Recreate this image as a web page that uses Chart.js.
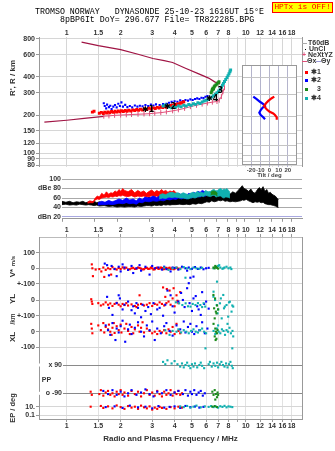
<!DOCTYPE html>
<html><head><meta charset="utf-8">
<script src="https://cdn.jsdelivr.net/npm/chart.js@4.4.0/dist/chart.umd.min.js"></script>
<style>
html,body{margin:0;padding:0;background:#fff;}
#wrap{position:relative;width:335px;height:451px;overflow:hidden;background:#fff;}
canvas{position:absolute;}
.t{position:absolute;white-space:pre;font-family:"Liberation Mono","DejaVu Sans Mono",monospace;font-size:8.3px;line-height:9px;color:#000;}
.lg{position:absolute;white-space:pre;font-family:"Liberation Sans",Arial,sans-serif;font-size:7px;line-height:8px;color:#333;font-weight:bold;}
.sq{position:absolute;width:3px;height:3px;}
.ln{position:absolute;height:1px;}
</style></head><body>
<div id="wrap">
<canvas id="cMain" width="335" height="172" style="left:0;top:0"></canvas>
<canvas id="cAmp" width="335" height="52" style="left:0;top:172px"></canvas>
<canvas id="cLow" width="335" height="229" style="left:0;top:222px"></canvas>
<canvas id="cTilt" width="56" height="115" style="left:242px;top:65px"></canvas>
<div class="t" style="left:35px;top:7px">TROMSO NORWAY   DYNASONDE 25-10-23 1616UT 15°E</div>
<div class="t" style="left:60px;top:15px">8pBP6It DoY= 296.677 File= TR822285.BPG</div>
<div style="position:absolute;left:272px;top:2px;width:59px;height:9px;border:1px solid #f00;background:#ff0;color:#f00;font-family:'Liberation Mono',monospace;font-size:7.8px;line-height:9px;text-align:center;white-space:pre">HPTx is OFF!</div>
<div class="ln" style="left:302px;top:43px;width:5px;background:#aaa"></div>
<div class="lg" style="left:308px;top:39px">T60dB</div>
<div class="sq" style="left:305px;top:49px;width:1px;height:1px;background:#000"></div>
<div class="lg" style="left:309px;top:45px">UnCl</div>
<div class="lg" style="left:302px;top:51px;color:#e0507a">+</div>
<div class="lg" style="left:308px;top:51px">NeXtYZ</div>
<div class="ln" style="left:302px;top:61px;width:5px;background:#e0507a"></div>
<div class="lg" style="left:307px;top:57px">Θx</div>
<div class="ln" style="left:316px;top:61px;width:5px;background:#9a9ad8"></div>
<div class="lg" style="left:321px;top:57px">Θy</div>
<div class="sq" style="left:305px;top:71px;background:#f00"></div>
<div class="lg" style="left:311px;top:68px">✱1</div>
<div class="sq" style="left:305px;top:79px;background:#00f"></div>
<div class="lg" style="left:311px;top:76px">✱2</div>
<div class="sq" style="left:305px;top:88px;background:#1a8a1a"></div>
<div class="lg" style="left:317px;top:85px">3</div>
<div class="sq" style="left:305px;top:97px;background:#10b0b0"></div>
<div class="lg" style="left:311px;top:94px">✱4</div>
</div>
<script>
// ---------- shared axis data ----------
const freqTicks  = [1,1.5,2,3,4,5,6,7,8,9,10,12,14,16,18];
const freqLabels = ['1','1.5','2','3','4','5','6','7','8','9','10','12','14','16','18'];
const rangeTicks  = [80,90,100,120,150,200,300,400,600,800];
const rangeLabels = ['80','90','100','120','150','200','300','400','600','800'];
const ampTicks  = [20,40,60,80,100];
const ampLabels = ['dBn 20','40','60','dBe 80','100'];
const tiltTicks  = [-20,-10,0,10,20];
const tiltLabels = ['-20','-10','0','10','20'];
const tiltRangeTicks = [90,100,120,150,200,300,400];
const lowTickLabels = ['100','0','+-100','0','+-100','0','-100','','','10.','0.1'];

// ---------- ionogram (f MHz, R km) ----------
const redMain = [[1.39,211],[1.42,214],[1.52,207],[1.56,210],[1.6,206],[1.63,211],[1.67,208],[1.7,212],[1.74,209],[1.78,213],[1.82,210],[1.86,214],[1.9,211],[1.94,215],[1.98,212],[2.02,216],[2.07,213],[2.12,217],[2.17,214],[2.22,218],[2.28,215],[2.34,219],[2.4,217],[2.46,221],[2.52,218],[2.58,222],[2.65,219],[2.72,224],[2.8,221],[2.88,226],[2.96,223],[3.04,228],[3.12,225],[3.2,230],[3.28,227],[3.36,232],[3.44,229],[3.52,234],[3.6,231],[3.68,236],[3.76,234],[3.84,239],[3.92,237],[4.0,242],[4.08,240],[4.16,245],[4.24,244],[4.32,249],[4.4,250],[4.5,255]];
const blueMain = [[1.61,248],[1.63,236],[1.66,226],[1.68,242],[1.72,231],[1.75,237],[1.78,223],[1.82,233],[1.86,240],[1.9,230],[1.94,246],[1.98,236],[2.02,252],[2.06,233],[2.12,241],[2.18,231],[2.25,236],[2.32,230],[2.4,238],[2.48,233],[2.56,237],[2.65,235],[2.75,240],[2.85,236],[2.95,242],[3.05,238],[3.15,243],[3.3,240],[3.45,244],[3.6,246],[3.72,250],[3.85,254],[4.0,257],[4.15,255],[4.3,261],[4.45,258],[4.6,263],[4.75,260],[4.9,266],[5.05,263],[5.2,268],[5.35,271],[5.5,268],[5.65,274],[5.8,272],[5.95,279],[6.1,283]];
const cyanMain = [[3.45,236],[3.55,240],[3.7,232],[3.85,228],[3.95,234],[4.05,230],[4.2,236],[4.35,233],[4.5,239],[4.65,236],[4.8,242],[4.95,239],[5.1,246],[5.25,243],[5.4,250],[5.55,247],[5.7,254],[5.85,258],[6.0,262],[6.15,266],[6.3,272],[6.45,278],[6.6,284],[6.75,292],[6.9,300],[7.05,310],[7.2,320],[7.3,332],[7.4,344],[7.5,356],[7.6,368],[7.72,382],[7.85,396],[7.95,410],[8.05,425],[8.15,440],[8.22,455]];
const greenMain = [[6.4,300],[6.46,310],[6.5,318],[6.55,326],[6.6,322],[6.65,333],[6.7,340],[6.8,346],[6.9,352],[7.0,360],[7.08,366]];
const nextyz = [[1.61,196],[1.72,197],[1.85,199],[2.0,200],[2.15,201],[2.3,202],[2.5,203],[2.7,204],[2.9,205],[3.1,207],[3.35,209],[3.6,212],[3.9,216],[4.2,220],[4.55,226],[4.9,233],[5.3,239],[5.7,244],[6.1,249],[6.5,253],[6.9,256],[7.1,262],[7.3,280],[7.45,306],[7.6,329]];
const maroonUpper = [[1.21,754],[1.5,708],[2.0,658],[2.5,605],[3.03,560],[3.5,538],[3.9,521],[4.6,469],[5.5,421],[6.2,392],[6.7,366],[7.18,353]];
const maroonLower = [[0.75,176],[1.0,182],[1.25,188],[1.61,195]];
const traceLabels = [[2.85,219,'✱1'],[3.78,232,'✱2'],[7.2,312,'3'],[6.48,266,'✱4']];

// ---------- tilt inset (deg, R km) ----------
const tiltRed  = [[5.2,287],[2.4,279],[-1.3,266],[-3.8,255],[-6.0,243],[-3.1,229],[-0.2,220],[4.1,213],[6.0,207],[7.9,199],[7.9,190]];
const tiltBlue = [[-17.7,287],[-14.0,275],[-10.4,262],[-6.8,252],[-4.9,243],[-7.4,236],[-9.6,226],[-11.1,216],[-9.6,207],[-6.8,199],[-4.9,192]];

// ---------- amplitude (dB) ----------
const blackAmpF  = [1.0,1.05,1.1,1.15,1.2,1.25,1.3,1.35,1.4,1.45,1.5,1.55,1.6,1.7,1.8,1.9,2.0,2.1,2.2,2.3,2.4,2.5,2.6,2.7,2.8,2.9,3.0,3.1,3.2,3.3,3.4,3.5,3.6,3.7,3.8,3.9,4.0,4.2,4.4,4.6,4.8,5.0,5.2,5.4,5.6,5.8,6.0,6.2,6.4,6.6,6.8,7.0,7.2,7.4,7.6,7.8,8.0,8.3,8.6,8.9,9.2,9.5,9.7,9.9,10.2,10.5,10.8,11.1,11.4,11.7,12.0,12.3,12.6,12.9,13.2,13.5,13.8,14.1,14.4,14.7,15.0,15.3];
const blackAmpHi = [53,51,53,50,52,51,53,50,52,51,53,50,52,49,51,48,50,52,49,51,50,53,51,55,54,58,62,57,61,56,63,58,62,57,64,60,65,61,63,60,66,62,65,68,63,67,72,66,70,74,68,72,66,74,70,76,72,68,73,70,76,82,86,80,78,74,79,72,70,77,82,78,84,74,78,70,72,68,66,64,60,56];
const blackAmpLo = [46,47,45,46,45,47,46,45,46,45,44,45,43,44,42,43,41,42,41,42,42,41,43,42,43,44,44,43,45,44,45,44,46,45,46,45,46,46,47,46,47,46,48,47,49,48,50,52,51,54,52,53,55,54,56,53,54,52,53,52,53,54,56,55,57,54,52,50,52,51,52,50,51,48,47,46,46,45,44,43,41,40];
const redAmpF  = [1.38,1.42,1.48,1.52,1.56,1.6,1.65,1.7,1.75,1.8,1.85,1.9,1.95,2.0,2.05,2.1,2.15,2.2,2.3,2.4,2.5,2.6,2.7,2.8,2.9,3.0,3.1,3.2,3.3,3.4,3.5,3.6,3.7,3.8,3.9,4.0,4.1,4.2,4.3];
const redAmpHi = [51,54,52,60,64,62,70,66,73,68,71,70,75,72,78,74,80,76,73,78,71,76,72,75,70,74,77,72,76,73,78,74,76,72,75,73,76,71,69];
const redAmpLo = [49,50,50,56,58,57,60,61,62,61,63,62,64,63,65,64,66,64,63,65,62,64,63,64,62,63,65,63,64,62,65,63,64,62,64,63,64,62,62];
const blueAmpF  = [1.57,1.65,1.72,1.8,1.88,1.95,2.05,2.15,2.25,2.35,2.45,2.55,2.65,2.75,2.85,3.0,3.15,3.3,3.45,3.6,3.75,3.9,4.05,4.2,4.35,4.5,4.65,4.8,4.95,5.1,5.25,5.4,5.55,5.7,5.85,6.0,6.15];
const blueAmpHi = [50,53,51,55,52,54,58,55,60,56,58,54,60,57,62,60,64,61,65,62,66,64,68,65,70,67,69,66,70,68,72,70,74,72,76,74,72];
const blueAmpLo = [45,46,46,47,46,47,49,48,50,48,49,47,51,50,53,52,54,53,55,54,57,56,58,57,60,58,60,58,61,60,62,61,63,62,65,64,64];
const cyanAmpF  = [3.4,3.55,3.7,3.85,4.0,4.15,4.3,4.45,4.6,4.75,4.9,5.05,5.2,5.35,5.5,5.65,5.8,5.95,6.1,6.3,6.5,6.65,6.8,6.95,7.1,7.25,7.4,7.55,7.7,7.85,8.0,8.15,8.3];
const cyanAmpHi = [66,69,67,71,72,70,71,68,71,69,67,70,72,70,74,71,72,70,76,73,74,77,78,75,76,79,80,77,79,78,80,76,72];
const cyanAmpLo = [58,60,59,62,61,62,61,60,60,59,58,60,61,60,62,63,64,63,66,64,63,65,66,62,63,64,64,61,60,62,62,61,60];
const greenAmpF  = [6.5,6.7,6.9,7.1];
const greenAmpHi = [72,75,74,70];
const greenAmpLo = [66,68,67,64];

// ---------- lower panel: V* (m/s) ----------
const vsRed = [[1.38,25],[1.39,0],[1.40,-50],[1.45,-8],[1.52,-5],[1.56,-20],[1.6,5],[1.62,-55],[1.65,-10],[1.7,0],[1.75,-5],[1.77,-40],[1.8,8],[1.85,-3],[1.9,-8],[1.95,2],[2.0,-5],[2.05,6],[2.1,-2],[2.15,4],[2.2,-8],[2.25,-6],[2.3,0],[2.35,3],[2.4,-4],[2.45,-3],[2.5,5],[2.55,2],[2.6,-2],[2.65,-7],[2.7,-6],[2.75,1],[2.8,3],[2.85,-4],[2.9,-3],[2.95,5],[3.0,0],[3.05,-8],[3.1,-6],[3.15,2],[3.2,4],[3.25,-4],[3.3,-2],[3.35,5],[3.4,2],[3.45,-6],[3.5,-5],[3.55,1],[3.6,3],[3.65,-5],[3.7,0],[3.75,4],[3.8,-4],[3.85,-2],[3.9,2],[3.95,-6],[4.0,-3],[4.1,4],[4.15,1],[4.2,-5],[4.3,-2]];
const vsBlue = [[1.63,30],[1.68,20],[1.72,-45],[1.78,15],[1.85,-5],[1.9,-50],[1.95,10],[2.0,-20],[2.05,25],[2.1,5],[2.2,-10],[2.3,15],[2.35,-30],[2.45,0],[2.55,20],[2.6,-15],[2.75,10],[2.9,-40],[3.0,15],[3.1,0],[3.25,5],[3.4,-8],[3.5,10],[3.6,-5],[3.8,-20],[3.9,5],[4.0,2],[4.2,-8],[4.4,10],[4.6,0],[4.7,-15],[4.8,5],[4.9,-60],[5.0,-3],[5.1,-53],[5.2,8],[5.4,-4],[5.6,5],[5.8,-6],[6.0,0],[6.2,3]];
const vsCyan = [[3.5,5],[3.7,-10],[3.9,0],[4.1,5],[4.3,-5],[4.5,8],[4.6,-60],[4.7,0],[4.9,-5],[5.1,5],[5.3,0],[5.5,-3],[5.7,3],[6.6,0],[6.8,8],[6.9,-85],[7.0,15],[7.1,20],[7.2,5],[7.4,-3],[7.5,0],[7.6,5],[7.8,10],[8.0,0],[8.2,5],[8.3,-5]];
const vsGreen = [[6.6,5],[6.7,0],[6.75,15],[6.8,10],[6.9,3],[7.0,-2]];
// ---------- YL (km) ----------
const ylRed = [[1.37,5],[1.38,-10],[1.39,-25],[1.5,-20],[1.55,-35],[1.6,-28],[1.65,-15],[1.7,-30],[1.75,-22],[1.8,-38],[1.85,-25],[1.9,-18],[1.95,-30],[2.0,-40],[2.05,-25],[2.1,-32],[2.15,-20],[2.2,-35],[2.3,-28],[2.4,-38],[2.45,-45],[2.5,-30],[2.55,30],[2.6,-25],[2.7,-35],[2.8,-30],[2.9,-20],[3.0,-38],[3.1,-25],[3.2,-30],[3.3,-15],[3.4,-25],[3.45,80],[3.5,-35],[3.55,20],[3.6,-20],[3.62,70],[3.7,-10],[3.75,60],[3.8,-30],[3.9,10],[3.95,75],[4.0,-40],[4.1,30],[4.15,-5],[4.2,-20],[4.3,50]];
const ylBlue = [[1.68,20],[1.72,-50],[1.8,-95],[1.9,-20],[1.95,30],[1.98,10],[2.05,-60],[2.1,-30],[2.2,-10],[2.3,-65],[2.35,-40],[2.4,-85],[2.45,-20],[2.5,-50],[2.6,-110],[2.65,-30],[2.75,-70],[2.85,-45],[2.95,-90],[3.05,-20],[3.2,-60],[3.3,-50],[3.45,-100],[3.55,-30],[3.65,60],[3.8,30],[3.9,-40],[4.0,-80],[4.2,-10],[4.35,45],[4.45,0],[4.55,-45],[4.7,75],[4.8,107],[4.85,-20],[5.0,-70],[5.1,10],[5.25,25],[5.35,-40],[5.45,-60],[5.6,-95],[5.7,50],[5.85,-25],[6.0,-10],[6.2,-55]];
const ylCyan = [[4.07,-15],[4.24,-21],[4.42,-32],[4.61,-21],[4.75,-40],[4.91,-42],[5.05,-25],[5.23,-32],[5.4,-20],[5.57,-32],[5.7,-45],[5.81,-21],[5.93,-42],[6.59,21],[6.6,53],[6.73,0],[6.88,-32],[6.95,-85],[7.0,-60],[7.17,-21],[7.25,10],[7.33,-117],[7.48,32],[7.55,-53],[7.63,-42],[7.8,-32],[7.97,-106],[8.05,-15],[8.14,-11],[8.32,-74],[8.4,-35],[8.5,-42]];
const ylGreen = [[6.59,32],[6.65,-53],[6.7,-117],[6.73,10],[6.8,-74],[6.85,-85],[6.9,-35],[7.0,-60]];
// ---------- XL (km) ----------
const xlRed = [[1.37,50],[1.38,20],[1.39,-10],[1.5,40],[1.55,10],[1.6,55],[1.62,-5],[1.65,30],[1.7,15],[1.72,45],[1.75,0],[1.78,-20],[1.8,25],[1.83,55],[1.85,-8],[1.9,35],[1.95,10],[2.0,45],[2.02,-5],[2.1,20],[2.15,50],[2.2,5],[2.25,-15],[2.3,30],[2.35,-10],[2.4,15],[2.5,40],[2.55,0],[2.6,25],[2.65,60],[2.7,-5],[2.8,20],[2.9,5],[3.0,-10],[3.1,0],[3.2,-15],[3.3,5],[3.4,-5],[3.5,10],[3.6,-10],[3.7,15],[3.8,0],[3.9,30],[4.0,-15],[4.1,50],[4.2,5],[4.3,-10]];
const xlBlue = [[1.65,40],[1.7,10],[1.75,-20],[1.8,55],[1.87,-53],[1.9,20],[1.95,-5],[2.0,35],[2.05,70],[2.12,-64],[2.2,15],[2.25,45],[2.3,-15],[2.4,25],[2.5,60],[2.6,0],[2.7,-30],[2.8,40],[2.9,10],[3.0,65],[3.1,-53],[3.2,20],[3.35,-10],[3.5,35],[3.6,55],[3.75,5],[3.9,-25],[4.1,40],[4.3,15],[4.5,65],[4.6,-5],[4.75,30],[4.9,50],[5.0,0],[5.15,-15],[5.3,35],[5.5,10],[5.7,60],[5.9,-10],[6.1,20]];
const xlCyan = [[3.55,10],[3.75,-20],[3.9,5],[4.1,0],[4.2,15],[4.35,-5],[4.5,10],[4.65,0],[4.8,-10],[4.95,5],[5.1,15],[5.25,0],[5.4,-5],[5.55,10],[5.7,20],[5.85,0],[5.95,-106],[6.0,-10],[6.6,5],[6.75,-15],[6.9,20],[7.0,40],[7.05,0],[7.2,-10],[7.35,15],[7.5,5],[7.65,-20],[7.8,10],[7.9,50],[7.95,0],[8.1,25],[8.25,-10],[8.4,-106],[8.42,5],[8.5,-30]];
const xlGreen = [[6.6,50],[6.7,-30],[6.75,20],[6.8,0],[6.85,-45],[6.9,-10],[6.95,10],[6.78,-53]];
// ---------- PP (deg) ----------
const ppRed = [[1.36,-80],[1.38,-100],[1.52,-95],[1.55,-70],[1.6,-105],[1.65,-85],[1.7,-75],[1.75,-100],[1.8,-90],[1.85,-110],[1.9,-80],[1.95,-95],[2.0,-70],[2.05,-100],[2.1,-85],[2.2,-105],[2.3,-75],[2.4,-95],[2.5,-80],[2.6,-110],[2.7,-90],[2.8,-70],[2.9,-100],[3.0,-85],[3.1,-105],[3.2,-75],[3.3,-95],[3.4,-110],[3.5,-80],[3.6,-100],[3.7,-90],[3.8,-70],[3.9,-105],[4.0,-85],[4.1,-95],[4.2,-75],[4.3,-100],[4.4,-90]];
const ppBlue = [[1.6,-75],[1.7,-95],[1.8,-70],[1.9,-100],[2.0,-80],[2.1,-110],[2.2,-90],[2.3,-70],[2.45,-100],[2.6,-85],[2.75,-65],[2.9,-95],[3.05,-110],[3.2,-80],[3.4,-90],[3.6,-70],[3.8,-100],[4.0,-85],[4.2,-75],[4.45,-95],[4.6,-70],[4.75,-105],[4.9,-80],[5.0,-95],[5.15,-70],[5.3,-100],[5.45,-85],[5.6,-75],[5.75,-105],[5.9,-90]];
const ppCyan = [[3.45,110],[3.55,95],[3.65,120],[3.85,100],[4.0,115],[4.15,95],[4.3,80],[4.4,100],[4.5,75],[4.6,90],[4.7,105],[4.8,85],[4.9,70],[5.0,95],[5.1,80],[5.2,100],[5.35,75],[5.5,90],[5.6,105],[5.7,85],[5.85,70],[6.2,95],[6.3,110],[6.45,80],[6.6,100],[6.75,85],[6.9,105],[7.0,75],[7.15,95],[7.3,110],[7.45,90],[7.6,80],[7.75,100],[7.9,75],[8.05,95],[8.2,110],[8.35,85],[8.45,70]];
const ppGreen = [[6.5,-80],[6.6,-100],[6.7,-70],[6.75,-130],[6.8,-95],[6.9,-115],[6.95,-85],[7.0,-100]];
// ---------- EP (deg) ----------
const epRed = [[1.36,10],[1.55,15],[1.6,5],[1.7,12],[1.8,4],[1.9,20],[2.0,8],[2.1,3],[2.2,14],[2.3,6],[2.4,10],[2.5,3],[2.6,18],[2.7,7],[2.8,4],[2.9,12],[3.0,2],[3.1,6],[3.2,3],[3.3,9],[3.4,5],[3.6,3],[3.8,8],[4.0,4],[4.2,10],[4.4,6]];
const epBlue = [[1.65,8],[1.85,12],[2.05,5],[2.25,18],[2.5,7],[2.75,10],[3.0,4],[3.25,14],[3.5,6],[3.75,9],[4.0,12],[4.3,5],[4.6,15],[4.9,8],[5.2,11],[5.5,6],[5.8,9]];
const epCyan = [[4.3,12],[4.5,8],[4.7,15],[4.9,6],[5.1,10],[5.3,18],[5.6,7],[5.9,12],[6.2,9],[6.4,14],[6.6,8],[6.8,11],[7.0,6],[7.2,13],[7.4,9],[7.6,16],[7.8,7],[8.0,12],[8.2,10],[8.4,8]];
const epGreen = [[6.5,10],[6.7,14],[6.9,8]];

// ---------- styling / helpers ----------
const RED='#ff0000', BLUE='#0000ff', GREEN='#1a8a1a', CYAN='#10b0b0', MAROON='#a01444', PINK='#e0507a';
const FMIN=0.748, FMAX=20.58;
const LBL = {size:7, weight:'bold'};
Chart.defaults.font.family = '"Liberation Sans", Arial, sans-serif';
Chart.defaults.font.size = 7;
Chart.defaults.color = '#333';
Chart.defaults.animation = false;
Chart.defaults.plugins.legend.display = false;
Chart.defaults.plugins.tooltip.enabled = false;

const pts = a => a.map(p => ({x:p[0], y:p[1]}));
const fixed = vals => s => { s.ticks = vals.map(v => ({value:v})); };
const zip = (f, v) => f.map((x,i) => ({x, y:v[i]}));
const base = {responsive:false, devicePixelRatio:1, animation:false};

function textPlugin(id, items){
  return {id, afterDraw(chart){
    const ctx = chart.ctx;
    items.forEach(it => {
      ctx.save();
      ctx.translate(it.x, it.y);
      if (it.rot) ctx.rotate(-Math.PI/2);
      ctx.font = it.font;
      ctx.textAlign = it.align || 'center';
      ctx.textBaseline = 'middle';
      if (it.bg) { ctx.fillStyle = '#fff'; ctx.fillRect(it.bg[0], -1.5, it.bg[1], 3); }
      ctx.fillStyle = it.color || '#333';
      ctx.fillText(it.text, 0, 0);
      ctx.restore();
    });
  }};
}

// ---------- main ionogram ----------
const labelPlugin = {id:'traceLabels', afterDatasetsDraw(chart){
  const ctx = chart.ctx, xs = chart.scales.x, ys = chart.scales.y;
  ctx.save();
  ctx.font = 'bold 8px "DejaVu Sans"';
  ctx.fillStyle = '#000'; ctx.textAlign = 'center'; ctx.textBaseline = 'middle';
  traceLabels.forEach(l => ctx.fillText(l[2], xs.getPixelForValue(l[0]), ys.getPixelForValue(l[1])));
  ctx.restore();
}};
const sq = (data, color, r, order) => ({data: pts(data), backgroundColor: color, borderWidth: 0, pointStyle: 'rect', pointRadius: r, order});
new Chart(document.getElementById('cMain'), {
  type: 'scatter',
  data: {datasets: [
    sq(greenMain, GREEN, 2.1, 1),
    sq(cyanMain, CYAN, 2.1, 2),
    sq(redMain, RED, 2.1, 3),
    sq(blueMain, BLUE, 1.5, 4),
    {data: pts(nextyz), showLine: true, borderColor: PINK, borderWidth: 1, pointStyle: 'line', pointRotation: 90, pointRadius: 2.5, pointBorderColor: PINK, pointBorderWidth: 1, order: 5},
    {data: pts(maroonUpper), showLine: true, borderColor: MAROON, borderWidth: 1.2, pointRadius: 0, order: 6},
    {data: pts(maroonLower), showLine: true, borderColor: MAROON, borderWidth: 1.2, pointRadius: 0, order: 6}
  ]},
  options: Object.assign({}, base, {
    layout: {padding: {top: 0, left: 0, right: 33, bottom: 2}},
    scales: {
      x: {type: 'logarithmic', position: 'top', min: FMIN, max: FMAX,
          afterBuildTicks: fixed(freqTicks), afterFit: s => { s.height = 37; },
          ticks: {autoSkip: false, maxRotation: 0, padding: 0, font: LBL, color: '#333',
                  callback: (v, i) => freqLabels[i] === '9' ? '' : freqLabels[i]},
          grid: {color: '#d6d6d6', drawTicks: false}, border: {display: false}},
      y: {type: 'logarithmic', min: 78, max: 828,
          afterBuildTicks: fixed(rangeTicks), afterFit: s => { s.width = 39; },
          ticks: {autoSkip: false, padding: 1, font: LBL, color: '#333', callback: (v, i) => rangeLabels[i]},
          grid: {color: '#d6d6d6', tickLength: 3, tickColor: '#999'}, border: {color: '#999'}},
      yr: {position: 'right', afterFit: s => { s.width = 0; }, ticks: {display: false},
           grid: {display: false}, border: {display: true, color: '#999'}}
    }
  }),
  plugins: [labelPlugin, textPlugin('mainTitle', [{text: "R', R / km", x: 13, y: 78, rot: true, font: 'bold 8px "Liberation Sans"'}])]
});

// ---------- tilt inset ----------
const tiltFrame = {id: 'tiltFrame',
  beforeDraw(chart){ const a = chart.chartArea, c = chart.ctx; c.save(); c.fillStyle = '#fff'; c.fillRect(a.left, a.top, a.right - a.left, a.bottom - a.top); c.restore(); },
  afterDraw(chart){ const a = chart.chartArea, c = chart.ctx; c.save(); c.strokeStyle = '#999'; c.lineWidth = 1; c.strokeRect(a.left + 0.5, a.top + 0.5, a.right - a.left - 1, a.bottom - a.top - 1); c.restore(); }};
new Chart(document.getElementById('cTilt'), {
  type: 'scatter',
  data: {datasets: [
    {data: pts(tiltRed), showLine: true, borderColor: RED, borderWidth: 2.2, pointRadius: 0},
    {data: pts(tiltBlue), showLine: true, borderColor: BLUE, borderWidth: 2.2, pointRadius: 0}
  ]},
  options: Object.assign({}, base, {
    layout: {padding: {top: 0, left: 0, right: 1, bottom: 0}},
    scales: {
      x: {type: 'linear', min: -30, max: 30, afterBuildTicks: fixed(tiltTicks), afterFit: s => { s.height = 15; },
          ticks: {autoSkip: false, maxRotation: 0, padding: 0, font: {size: 6, weight: 'bold'}, color: '#444', callback: (v, i) => tiltLabels[i]},
          grid: {color: '#b4b4cc', tickLength: 2}, border: {display: false},
          title: {display: true, text: 'Tilt / deg', font: {size: 6, weight: 'bold'}, color: '#444', padding: {top: 0, bottom: 0.9}}},
      y: {type: 'logarithmic', min: 85.2, max: 503.6, afterBuildTicks: fixed(tiltRangeTicks), afterFit: s => { s.width = 0; },
          ticks: {display: false}, grid: {color: '#c4c4c4', drawTicks: false}, border: {display: false}}
    }
  }),
  plugins: [tiltFrame]
});

// ---------- amplitude panel ----------
const band = (f, hi, lo, color, order) => [
  {data: zip(f, hi), showLine: true, borderColor: color, borderWidth: 0.8, pointRadius: 0, fill: false, order},
  {data: zip(f, lo), showLine: true, borderColor: color, borderWidth: 0.8, pointRadius: 0, fill: '-1', backgroundColor: color, order}
];
new Chart(document.getElementById('cAmp'), {
  type: 'scatter',
  data: {datasets: [].concat(
    band(greenAmpF, greenAmpHi, greenAmpLo, GREEN, 1),
    band(cyanAmpF, cyanAmpHi, cyanAmpLo, CYAN, 2),
    band(blueAmpF, blueAmpHi, blueAmpLo, BLUE, 3),
    band(redAmpF, redAmpHi, redAmpLo, RED, 4),
    band(blackAmpF, blackAmpHi, blackAmpLo, '#000', 5)
  )},
  options: Object.assign({}, base, {
    layout: {padding: {top: 3, left: 0, right: 33, bottom: 0}},
    scales: {
      x: {type: 'logarithmic', min: 1.0, max: FMAX, afterBuildTicks: fixed(freqTicks), afterFit: s => { s.height = 4; },
          ticks: {display: false, autoSkip: false}, grid: {drawOnChartArea: false, tickLength: 3, color: '#999'}, border: {color: '#999'}},
      y: {type: 'linear', min: 16.1, max: 103.9, afterBuildTicks: fixed(ampTicks), afterFit: s => { s.width = 62; },
          ticks: {autoSkip: false, padding: 1, font: LBL, color: '#333', callback: (v, i) => ampLabels[i]},
          grid: {drawTicks: false, color: c => c.tick && c.tick.value === 20 ? '#a8a8e0' : '#aaaaaa'}, border: {display: false}}
    }
  })
});

// ---------- lower multi-channel panel ----------
const toV  = v => 150.7 + 0.157 * v;
const toYL = v => 119 + 0.157 * v;
const toXL = v => 87.3 + 0.157 * v;
const toPP = v => 39.85 + 0.157 * v;
const toEP = v => 8.15 + 4.15 * Math.log10(v);
const lowTicks = [toV(100), toV(0), toV(-100), toYL(0), toYL(-100), toXL(0), toXL(-100), toPP(90), toPP(-90), toEP(10), toEP(0.1)];
const chan = (vs, yl, xl, pp, ep) => [].concat(
  vs.map(p => ({x: p[0], y: toV(p[1])})), yl.map(p => ({x: p[0], y: toYL(p[1])})),
  xl.map(p => ({x: p[0], y: toXL(p[1])})), pp.map(p => ({x: p[0], y: toPP(p[1])})),
  ep.map(p => ({x: p[0], y: toEP(p[1])})));
const dot = (data, color, order) => ({data, backgroundColor: color, borderWidth: 0, pointStyle: 'rect', pointRadius: 1.5, order});
const O = -222;
new Chart(document.getElementById('cLow'), {
  type: 'scatter',
  data: {datasets: [
    dot(chan(vsGreen, ylGreen, xlGreen, ppGreen, epGreen), GREEN, 1),
    dot(chan(vsCyan, ylCyan, xlCyan, ppCyan, epCyan), CYAN, 2),
    dot(chan(vsBlue, ylBlue, xlBlue, ppBlue, epBlue), BLUE, 3),
    dot(chan(vsRed, ylRed, xlRed, ppRed, epRed), RED, 4)
  ]},
  options: Object.assign({}, base, {
    layout: {padding: {top: 0, left: 0, right: 33, bottom: 0}},
    scales: {
      x: {type: 'logarithmic', position: 'bottom', min: FMIN, max: FMAX, afterBuildTicks: fixed(freqTicks), afterFit: s => { s.height = 32; },
          ticks: {autoSkip: false, maxRotation: 0, padding: 0, font: LBL, color: '#333', callback: (v, i) => freqLabels[i] === '9' ? '' : freqLabels[i]},
          grid: {color: '#e2e2e2', tickLength: 3, tickColor: '#999'}, border: {color: '#999'},
          title: {display: true, text: 'Radio and Plasma Frequency / MHz', font: {size: 8, weight: 'bold'}, color: '#333', padding: {top: 0, bottom: 7.2}}},
      xt: {type: 'logarithmic', position: 'top', min: FMIN, max: FMAX, afterBuildTicks: fixed(freqTicks), afterFit: s => { s.height = 15; },
          ticks: {autoSkip: false, maxRotation: 0, padding: 0, font: LBL, color: '#333', callback: (v, i) => freqLabels[i]},
          grid: {drawOnChartArea: false, tickLength: 3, color: '#999'}, border: {color: '#bbb'}},
      y: {type: 'linear', min: 0, max: 182, afterBuildTicks: fixed(lowTicks), afterFit: s => { s.width = 39; },
          ticks: {autoSkip: false, padding: 1, font: LBL, color: '#333', callback: (v, i) => lowTickLabels[i]},
          grid: {tickLength: 3, color: c => (c.index === 7 || c.index === 8) ? '#8a8a8a' : '#d6d6d6',
                 tickColor: c => (c.index === 7 || c.index === 8) ? 'rgba(0,0,0,0)' : '#999'},
          border: {color: '#999'}},
      yr: {position: 'right', afterFit: s => { s.width = 0; }, ticks: {display: false}, grid: {display: false}, border: {display: true, color: '#999'}}
    }
  }),
  plugins: [textPlugin('lowText', [
    {text: 'x 90', x: 62, y: 365 + O, align: 'right', font: 'bold 7px "Liberation Sans"', bg: [-23, 24]},
    {text: 'PP', x: 46.5, y: 380 + O, font: 'bold 7px "Liberation Sans"'},
    {text: 'o -90', x: 62, y: 393.3 + O, align: 'right', font: 'bold 7px "Liberation Sans"', bg: [-23, 24]},
    {text: 'V*', x: 13, y: 273 + O, rot: true, font: 'bold 8px "Liberation Sans"'},
    {text: 'm/s', x: 13, y: 261 + O, rot: true, font: 'bold 6px "Liberation Sans"'},
    {text: 'YL', x: 13, y: 299 + O, rot: true, font: 'bold 8px "Liberation Sans"'},
    {text: '/km', x: 13, y: 319 + O, rot: true, font: 'bold 6.5px "Liberation Sans"'},
    {text: 'XL', x: 13, y: 337 + O, rot: true, font: 'bold 8px "Liberation Sans"'},
    {text: 'EP / deg', x: 13, y: 408 + O, rot: true, font: 'bold 7.5px "Liberation Sans"'}
  ])]
});
</script>
</body></html>
